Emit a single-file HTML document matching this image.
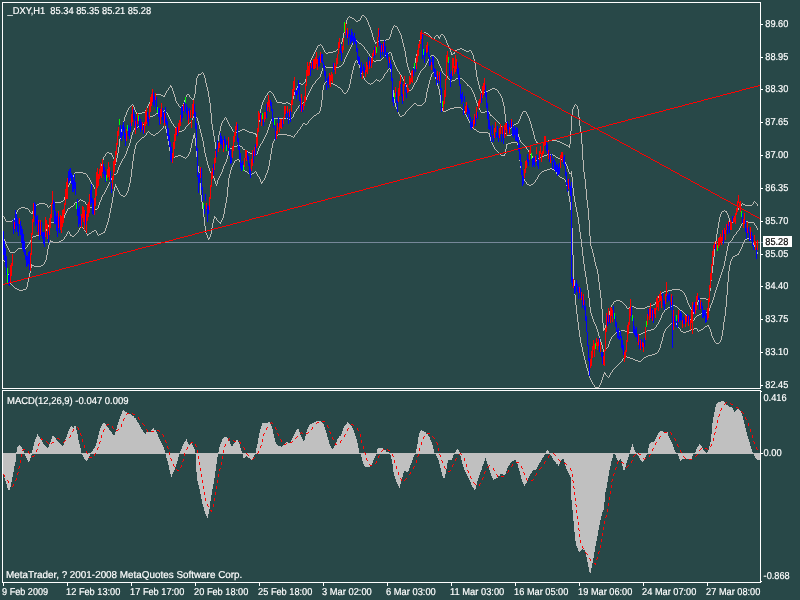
<!DOCTYPE html>
<html><head><meta charset="utf-8"><title>_DXY,H1</title>
<style>html,body{margin:0;padding:0;background:#284848;overflow:hidden}svg{display:block}text{font-family:"Liberation Sans", Arial, sans-serif;font-size:10px;fill:#fff;stroke:#fff;stroke-width:0.2px;white-space:pre;text-rendering:geometricPrecision}</style>
</head><body>
<svg width="800" height="600" viewBox="0 0 800 600">
<rect x="0" y="0" width="800" height="600" fill="#284848"/>
<g shape-rendering="crispEdges">
<path d="M3 453v22M4 453v25M5 453v28M6 453v31M7 453v35M8 453v37M9 453v37M10 453v34M11 453v29M12 453v24M13 453v19M14 453v13M15 453v9M16 452v2M17 447v7M18 446v8M19 445v9M20 446v8M21 447v7M22 449v5M23 451v3M24 453v1M25 453v3M26 453v5M27 453v7M28 453v9M29 453v8M30 453v5M31 453v2M32 450v4M33 446v8M34 442v12M35 439v15M36 437v17M37 434v20M38 436v18M39 437v17M40 439v15M41 440v14M42 442v12M43 444v10M44 445v9M45 446v8M46 447v7M47 448v6M48 447v7M49 444v10M50 442v12M51 439v15M52 436v18M53 436v18M54 437v17M55 438v16M56 440v14M57 441v13M58 442v12M59 443v11M60 444v10M61 445v9M62 446v8M63 445v9M64 442v12M65 439v15M66 437v17M67 434v20M68 431v23M69 429v25M70 427v27M71 426v28M72 427v27M73 428v26M74 426v28M75 426v28M76 430v24M77 434v20M78 440v14M79 444v10M80 448v6M81 453v1M82 453v2M83 453v4M84 453v6M85 453v7M86 453v8M87 453v7M88 453v5M89 453v3M90 453v1M91 452v2M92 451v3M93 449v5M94 448v6M95 446v8M96 443v11M97 439v15M98 435v19M99 431v23M100 428v26M101 426v28M102 424v30M103 423v31M104 423v31M105 424v30M106 426v28M107 427v27M108 428v26M109 430v24M110 431v23M111 432v22M112 434v20M113 435v19M114 435v19M115 432v22M116 429v25M117 425v29M118 422v32M119 419v35M120 416v38M121 414v40M122 411v43M123 410v44M124 411v43M125 412v42M126 412v42M127 413v41M128 413v41M129 414v40M130 414v40M131 415v39M132 416v38M133 416v38M134 418v36M135 418v36M136 420v34M137 422v32M138 423v31M139 425v29M140 427v27M141 429v25M142 430v24M143 432v22M144 433v21M145 434v20M146 432v22M147 432v22M148 432v22M149 432v22M150 432v22M151 430v24M152 429v25M153 428v26M154 430v24M155 430v24M156 432v22M157 434v20M158 437v17M159 439v15M160 441v13M161 443v11M162 445v9M163 447v7M164 450v4M165 453v1M166 453v5M167 453v8M168 453v12M169 453v17M170 453v21M171 453v24M172 453v21M173 453v19M174 453v17M175 453v14M176 453v11M177 453v8M178 453v4M179 453v1M180 451v3M181 449v5M182 446v8M183 444v10M184 442v12M185 441v13M186 439v15M187 442v12M188 444v10M189 445v9M190 444v10M191 443v11M192 445v9M193 447v7M194 449v5M195 453v1M196 453v19M197 453v28M198 453v32M199 453v36M200 453v41M201 453v46M202 453v51M203 453v54M204 453v58M205 453v61M206 453v63M207 453v65M208 453v61M209 453v56M210 453v48M211 453v42M212 453v36M213 453v31M214 453v25M215 453v18M216 453v11M217 453v4M218 452v2M219 447v7M220 444v10M221 442v12M222 439v15M223 438v16M224 437v17M225 437v17M226 437v17M227 438v16M228 439v15M229 441v13M230 444v10M231 446v8M232 446v8M233 444v10M234 443v11M235 441v13M236 440v14M237 440v14M238 442v12M239 444v10M240 448v6M241 451v3M242 453v1M243 453v5M244 453v5M245 453v4M246 453v3M247 453v4M248 453v5M249 453v5M250 453v6M251 453v7M252 453v6M253 453v4M254 453v2M255 453v1M256 448v6M257 444v10M258 438v16M259 433v21M260 429v25M261 426v28M262 423v31M263 423v31M264 423v31M265 423v31M266 423v31M267 423v31M268 422v32M269 422v32M270 423v31M271 426v28M272 429v25M273 434v20M274 438v16M275 442v12M276 444v10M277 445v9M278 446v8M279 446v8M280 446v8M281 447v7M282 446v8M283 445v9M284 444v10M285 443v11M286 442v12M287 442v12M288 443v11M289 443v11M290 442v12M291 440v14M292 438v16M293 436v18M294 434v20M295 432v22M296 430v24M297 429v25M298 429v25M299 432v22M300 435v19M301 437v17M302 439v15M303 441v13M304 440v14M305 436v18M306 432v22M307 429v25M308 427v27M309 425v29M310 424v30M311 424v30M312 423v31M313 423v31M314 422v32M315 422v32M316 421v33M317 421v33M318 421v33M319 421v33M320 421v33M321 422v32M322 423v31M323 424v30M324 427v27M325 430v24M326 433v21M327 437v17M328 440v14M329 444v10M330 446v8M331 448v6M332 449v5M333 448v6M334 446v8M335 444v10M336 442v12M337 439v15M338 438v16M339 436v18M340 436v18M341 434v20M342 431v23M343 428v26M344 426v28M345 425v29M346 424v30M347 422v32M348 423v31M349 424v30M350 425v29M351 426v28M352 428v26M353 430v24M354 433v21M355 436v18M356 439v15M357 443v11M358 448v6M359 453v1M360 453v1M361 453v4M362 453v8M363 453v11M364 453v13M365 453v14M366 453v14M367 453v14M368 453v14M369 453v14M370 453v13M371 453v12M372 453v10M373 453v7M374 453v5M375 453v3M376 453v1M377 449v5M378 448v6M379 448v6M380 448v6M381 448v6M382 448v6M383 449v5M384 450v4M385 450v4M386 452v2M387 452v2M388 452v2M389 453v1M390 453v2M391 453v6M392 453v11M393 453v19M394 453v23M395 453v26M396 453v29M397 453v31M398 453v33M399 453v35M400 453v31M401 453v28M402 453v24M403 453v20M404 453v18M405 453v18M406 453v19M407 453v19M408 453v18M409 453v15M410 453v12M411 453v10M412 453v7M413 453v4M414 453v2M415 453v1M416 449v5M417 444v10M418 437v17M419 433v21M420 431v23M421 430v24M422 431v23M423 431v23M424 432v22M425 432v22M426 434v20M427 434v20M428 436v18M429 437v17M430 440v14M431 442v12M432 445v9M433 449v5M434 453v1M435 453v1M436 453v3M437 453v5M438 453v7M439 453v11M440 453v15M441 453v19M442 453v23M443 453v25M444 453v25M445 453v21M446 453v16M447 453v10M448 453v7M449 453v7M450 453v7M451 453v7M452 453v5M453 453v2M454 453v1M455 452v2M456 450v4M457 449v5M458 450v4M459 452v2M460 453v3M461 453v7M462 453v11M463 453v14M464 453v17M465 453v19M466 453v21M467 453v23M468 453v25M469 453v27M470 453v29M471 453v32M472 453v34M473 453v35M474 453v37M475 453v36M476 453v32M477 453v28M478 453v25M479 453v22M480 453v19M481 453v17M482 453v13M483 453v11M484 453v8M485 453v5M486 453v8M487 453v11M488 453v14M489 453v17M490 453v20M491 453v23M492 453v25M493 453v27M494 453v26M495 453v26M496 453v25M497 453v25M498 453v23M499 453v23M500 453v21M501 453v21M502 453v21M503 453v22M504 453v22M505 453v21M506 453v18M507 453v15M508 453v13M509 453v12M510 453v10M511 453v9M512 453v8M513 453v8M514 453v7M515 453v7M516 453v9M517 453v11M518 453v15M519 453v18M520 453v22M521 453v26M522 453v29M523 453v31M524 453v33M525 453v31M526 453v30M527 453v28M528 453v25M529 453v23M530 453v21M531 453v20M532 453v18M533 453v17M534 453v17M535 453v17M536 453v16M537 453v14M538 453v12M539 453v10M540 453v9M541 453v7M542 453v5M543 453v4M544 453v2M545 453v1M546 451v3M547 450v4M548 451v3M549 453v1M550 453v2M551 453v3M552 453v5M553 453v7M554 453v8M555 453v9M556 453v11M557 453v11M558 453v13M559 453v11M560 453v9M561 453v7M562 453v6M563 453v6M564 453v9M565 453v13M566 453v16M567 453v18M568 453v20M569 453v22M570 453v24M571 453v47M572 453v57M573 453v68M574 453v79M575 453v88M576 453v93M577 453v95M578 453v98M579 453v99M580 453v98M581 453v97M582 453v96M583 453v97M584 453v97M585 453v100M586 453v104M587 453v109M588 453v114M589 453v119M590 453v120M591 453v115M592 453v110M593 453v105M594 453v99M595 453v93M596 453v88M597 453v83M598 453v77M599 453v72M600 453v67M601 453v63M602 453v59M603 453v57M604 453v49M605 453v39M606 453v35M607 453v29M608 453v23M609 453v17M610 453v13M611 453v8M612 453v5M613 453v1M614 453v1M615 453v2M616 453v5M617 453v7M618 453v8M619 453v7M620 453v6M621 453v8M622 453v13M623 453v17M624 453v17M625 453v14M626 453v10M627 453v7M628 453v4M629 453v1M630 450v4M631 447v7M632 444v10M633 447v7M634 450v4M635 452v2M636 453v1M637 453v2M638 453v3M639 453v5M640 453v7M641 453v8M642 453v9M643 453v8M644 453v6M645 453v4M646 453v2M647 453v1M648 448v6M649 444v10M650 443v11M651 442v12M652 442v12M653 442v12M654 441v13M655 439v15M656 437v17M657 435v19M658 433v21M659 432v22M660 431v23M661 431v23M662 431v23M663 432v22M664 433v21M665 432v22M666 432v22M667 432v22M668 436v18M669 438v16M670 440v14M671 442v12M672 444v10M673 447v7M674 450v4M675 452v2M676 453v1M677 453v1M678 453v3M679 453v6M680 453v8M681 453v7M682 453v6M683 453v6M684 453v6M685 453v6M686 453v6M687 453v6M688 453v6M689 453v6M690 453v6M691 453v6M692 453v3M693 453v1M694 453v1M695 452v2M696 449v5M697 447v7M698 446v8M699 444v10M700 445v9M701 446v8M702 448v6M703 450v4M704 451v3M705 452v2M706 453v1M707 452v2M708 450v4M709 446v8M710 442v12M711 434v20M712 423v31M713 417v37M714 412v42M715 407v47M716 404v50M717 403v51M718 402v52M719 402v52M720 402v52M721 401v53M722 401v53M723 401v53M724 402v52M725 404v50M726 405v49M727 405v49M728 406v48M729 407v47M730 407v47M731 407v47M732 408v46M733 410v44M734 412v42M735 411v43M736 410v44M737 409v45M738 409v45M739 410v44M740 411v43M741 413v41M742 416v38M743 420v34M744 424v30M745 428v26M746 432v22M747 436v18M748 439v15M749 442v12M750 446v8M751 449v5M752 452v2M753 453v1M754 453v3M755 453v5M756 453v6M757 453v7M758 453v7M759 453v7" stroke="#c0c0c0" stroke-width="1" fill="none" transform="translate(0.5,0)"/>
</g>
<path d="M3 474v1M4 475v2M7 480v1M8 481v2M12 486v1M13 484v2M15 480v1M16 478v2M17 473v2M18 468v1M18 472v1M19 466v2M20 460v3M21 454v3M22 450v1M23 449v1M24 449v1M28 451v2M29 453v1M32 456v1M33 456v1M34 455v1M36 450v2M37 449v1M38 444v2M39 443v1M41 438v2M42 439v1M46 441v1M47 442v1M48 443v1M51 443v1M52 442v1M53 442v1M57 438v1M58 438v1M59 439v1M63 442v1M64 441v1M65 440v1M69 437v1M70 435v2M72 431v1M73 429v2M77 427v1M78 428v2M80 433v2M81 435v1M82 439v3M84 445v3M86 451v2M87 453v1M89 457v1M90 457v1M91 457v1M94 454v2M95 453v1M97 448v2M98 447v1M99 442v2M100 441v1M101 435v3M103 430v2M104 429v1M106 425v1M107 424v1M108 424v1M112 426v2M113 428v1M116 430v1M117 430v1M118 429v1M121 424v3M123 419v2M124 418v1M126 414v1M127 413v1M128 413v1M132 413v1M133 414v1M134 414v1M138 417v2M139 419v1M142 423v1M143 424v1M144 425v1M146 429v1M147 430v2M151 431v1M152 431v1M153 431v1M157 430v1M158 430v1M159 431v1M162 434v1M163 435v2M165 440v2M166 442v1M167 446v2M168 448v1M169 452v3M170 458v1M171 459v2M173 464v2M174 466v1M176 469v1M177 470v1M178 470v1M180 467v1M181 465v2M182 461v1M183 459v2M184 453v3M186 449v1M187 447v2M190 443v1M191 442v1M192 442v1M195 444v2M196 446v1M197 450v3M198 456v3M199 462v3M200 468v3M201 474v3M202 480v3M203 486v3M204 492v3M205 498v3M207 504v2M208 506v1M210 510v1M211 510v2M213 504v3M214 498v3M215 492v3M216 486v3M217 480v3M218 474v3M219 469v2M220 468v1M221 462v3M222 456v3M223 450v3M224 446v1M225 444v2M228 439v2M229 438v1M233 440v1M234 441v1M235 441v1M239 441v1M240 442v2M243 447v1M244 448v2M246 453v1M247 454v1M248 455v1M252 459v1M253 458v1M254 457v1M257 453v1M258 451v2M260 446v2M261 445v1M262 439v3M263 434v2M264 433v1M266 428v2M267 427v1M270 423v1M271 422v1M272 423v1M275 427v2M276 429v1M277 433v1M278 434v2M280 439v1M281 440v2M284 444v1M285 444v1M286 443v1M290 442v1M291 442v1M292 441v1M295 438v1M296 437v1M297 436v1M300 433v1M301 432v1M302 433v1M306 433v1M307 433v1M308 432v1M311 429v1M312 427v2M316 423v1M317 422v1M318 422v1M322 421v1M323 421v1M324 421v1M327 425v2M328 427v1M329 431v1M330 432v2M332 437v2M333 439v1M335 443v2M336 444v1M340 441v2M341 440v1M344 435v2M345 434v1M347 429v2M348 428v1M351 424v1M352 424v1M353 425v1M357 428v2M358 430v1M360 434v3M361 440v3M363 446v3M364 452v1M365 453v2M366 458v2M367 460v1M369 464v1M370 465v1M371 465v1M375 463v1M376 461v2M378 456v2M379 455v1M381 451v1M382 450v1M383 449v1M387 449v1M388 450v1M389 450v1M392 454v2M393 456v1M394 460v3M396 466v3M398 472v3M400 478v1M401 479v2M404 480v1M405 479v1M406 478v1M409 474v1M410 472v2M413 467v2M414 466v1M416 460v3M417 456v1M418 454v2M419 448v3M421 442v3M423 437v2M424 436v1M427 433v1M428 433v1M429 433v1M432 436v1M433 437v1M434 438v1M436 442v1M437 443v2M438 448v3M439 454v1M440 455v2M441 460v1M442 461v2M444 466v2M445 468v1M448 471v1M449 471v1M450 470v1M452 465v2M453 464v1M455 459v2M456 458v1M459 454v1M460 453v1M461 454v1M464 458v3M466 464v3M467 470v1M468 471v2M470 476v2M471 478v1M473 482v1M474 483v1M475 484v1M479 484v2M480 483v1M482 478v2M483 477v1M484 472v2M485 471v1M487 467v1M488 466v1M489 465v1M493 468v2M494 470v1M496 474v1M497 475v2M501 476v1M502 476v1M503 476v1M507 472v1M508 470v2M511 466v1M512 464v2M516 462v1M517 462v1M518 462v1M521 466v2M522 468v1M523 472v1M524 473v2M526 478v2M527 480v1M531 480v1M532 480v1M533 479v1M535 475v1M536 473v2M539 469v1M540 468v1M541 467v1M544 462v2M545 461v1M548 456v2M549 455v1M553 453v1M554 454v1M555 455v1M558 459v1M559 460v1M560 461v1M564 463v1M565 463v1M566 464v1M570 468v2M571 470v1M572 474v3M572 480v1M573 481v2M573 486v2M574 488v1M574 492v3M575 498v3M575 504v1M576 505v2M576 510v3M577 516v3M578 522v3M578 528v2M579 530v1M579 534v3M580 540v3M582 546v2M583 548v1M585 552v1M586 553v1M587 554v1M589 558v1M590 559v2M594 563v1M595 563v2M596 559v1M597 557v2M598 552v2M599 551v1M600 545v3M601 539v3M602 533v3M603 527v3M604 521v3M605 517v1M606 515v2M607 509v3M608 503v3M609 497v3M610 491v3M611 481v1M611 485v3M612 479v2M613 474v2M614 473v1M615 468v2M616 467v1M617 462v2M618 461v1M621 462v1M622 462v1M623 463v1M626 467v1M627 466v1M628 465v1M631 461v2M632 460v1M633 456v1M634 455v1M635 454v1M638 453v1M639 454v1M640 454v1M643 458v1M644 459v1M645 458v1M649 455v2M650 454v1M652 449v2M653 448v1M655 443v2M656 442v1M659 437v2M660 436v1M664 432v1M665 432v1M666 432v1M670 432v1M671 433v2M674 438v1M675 439v2M677 444v2M678 446v1M680 450v2M681 452v1M683 456v1M684 457v1M685 458v1M689 459v1M690 459v1M691 459v1M695 456v1M696 455v1M697 454v1M699 450v1M700 449v1M701 448v1M705 448v1M706 448v1M707 449v1M710 446v1M711 444v2M713 438v3M714 433v2M715 428v1M715 432v1M716 426v2M717 420v3M718 416v1M719 414v2M720 410v1M721 408v2M724 404v1M725 403v1M726 402v1M730 403v1M731 404v1M732 404v1M736 407v1M737 407v1M738 408v1M741 411v1M742 412v1M743 413v1M745 417v2M746 419v1M748 423v3M750 429v3M752 435v3M753 441v1M754 442v2M756 447v2M757 449v1" stroke="#ff0000" stroke-width="1" fill="none" transform="translate(0.5,0)" shape-rendering="crispEdges"/>
<defs><clipPath id="cm"><rect x="3" y="3" width="757" height="385"/></clipPath></defs>
<g clip-path="url(#cm)">
<rect x="3" y="242" width="757" height="1" fill="#778899" shape-rendering="crispEdges"/>
<path d="M3 216v1M3 238v1M3 260v1M4 217v2M4 239v2M4 261v1M5 219v2M5 241v3M5 262v3M6 221v1M6 244v2M6 265v5M7 221v1M7 246v2M7 270v4M8 221v1M8 248v2M8 274v4M9 221v1M9 250v2M9 278v4M10 221v1M10 252v1M10 282v2M11 221v1M11 252v1M11 284v1M12 220v1M12 252v1M12 285v1M13 220v1M13 252v1M13 286v1M14 218v2M14 252v1M14 287v1M15 215v3M15 251v1M15 288v1M16 212v3M16 250v1M16 288v1M17 210v2M17 249v1M17 289v1M18 209v1M18 248v1M18 289v1M19 208v1M19 248v1M19 290v1M20 208v1M20 248v1M20 290v1M21 207v1M21 248v1M21 290v1M22 207v1M22 248v1M22 290v1M23 207v1M23 248v1M23 289v1M24 207v1M24 248v1M24 289v1M25 208v1M25 248v1M25 289v1M26 208v1M26 247v1M26 287v2M27 208v1M27 245v2M27 282v5M28 209v1M28 244v1M28 277v5M29 210v2M29 242v2M29 273v4M30 212v1M30 240v2M30 268v5M31 213v1M31 238v2M31 264v4M32 211v3M32 237v1M32 265v1M33 208v3M33 236v1M33 265v1M34 207v1M34 236v1M34 266v1M35 206v1M35 236v1M35 266v1M36 205v1M36 235v1M36 266v1M37 204v1M37 235v1M37 266v1M38 204v1M38 235v1M38 266v1M39 203v1M39 235v1M39 266v1M40 203v1M40 234v1M40 266v1M41 203v1M41 234v1M41 265v1M42 203v1M42 233v1M42 265v1M43 203v1M43 233v1M43 264v1M44 203v1M44 232v1M44 262v2M45 204v1M45 231v1M45 260v2M46 204v1M46 229v2M46 255v5M47 205v2M47 227v2M47 249v6M48 207v1M48 225v2M48 245v4M49 206v1M49 223v2M49 242v3M50 205v1M50 222v1M50 240v2M51 204v1M51 222v1M51 241v1M52 203v1M52 222v1M52 241v1M53 203v1M53 222v1M53 242v1M54 202v1M54 222v1M54 242v1M55 202v1M55 222v1M55 242v1M56 202v1M56 222v1M56 242v1M57 202v1M57 222v1M57 242v1M58 202v1M58 222v1M58 242v1M59 202v1M59 221v1M59 241v1M60 202v1M60 221v1M60 241v1M61 201v1M61 220v1M61 240v1M62 201v1M62 219v1M62 240v1M63 200v1M63 218v1M63 239v1M64 197v3M64 215v3M64 237v2M65 193v4M65 213v2M65 236v1M66 189v4M66 211v2M66 234v2M67 187v2M67 209v2M67 232v2M68 185v2M68 208v1M68 231v1M69 183v2M69 208v1M69 232v2M70 181v2M70 207v1M70 234v2M71 179v2M71 206v1M71 235v1M72 177v2M72 206v1M72 236v1M73 175v2M73 205v1M73 236v1M74 173v2M74 203v2M74 235v1M75 172v1M75 202v1M75 234v1M76 172v1M76 202v1M76 233v1M77 172v1M77 201v1M77 232v1M78 172v1M78 201v1M78 230v2M79 172v1M79 200v1M79 228v2M80 172v1M80 199v1M80 227v1M81 172v1M81 200v1M81 227v1M82 172v1M82 200v1M82 227v1M83 173v1M83 201v1M83 228v1M84 173v1M84 201v1M84 229v2M85 173v1M85 202v2M85 231v1M86 174v1M86 204v1M86 232v2M87 175v2M87 205v1M87 234v2M88 177v1M88 206v1M88 234v1M89 178v2M89 206v1M89 233v1M90 180v2M90 207v1M90 233v1M91 182v2M91 207v1M91 232v1M92 184v1M92 208v1M92 231v1M93 185v2M93 208v1M93 231v1M94 187v2M94 209v1M94 230v1M95 189v2M95 209v1M95 230v1M96 188v2M96 209v1M96 231v2M97 184v4M97 208v1M97 233v2M98 179v5M98 205v3M98 235v1M99 173v6M99 202v3M99 234v1M100 168v5M100 200v2M100 234v1M101 164v4M101 197v3M101 233v1M102 160v4M102 195v2M102 233v1M103 157v3M103 194v1M103 232v1M104 156v1M104 192v2M104 231v2M105 154v2M105 190v2M105 228v3M106 153v1M106 188v2M106 225v3M107 152v1M107 186v2M107 222v3M108 152v1M108 184v2M108 218v4M109 153v1M109 182v2M109 213v5M110 153v1M110 180v2M110 208v5M111 153v2M111 178v2M111 203v5M112 155v2M112 177v1M112 197v6M113 157v2M113 175v2M113 191v6M114 159v3M114 174v1M114 187v4M115 162v3M115 174v1M115 184v3M116 158v4M116 173v1M116 186v2M117 153v5M117 170v3M117 188v2M118 147v6M118 167v3M118 190v2M119 139v8M119 165v2M119 192v2M120 133v6M120 163v2M120 194v1M121 129v4M121 161v2M121 195v1M122 125v4M122 159v2M122 195v1M123 121v4M123 158v1M123 196v1M124 117v4M124 156v2M124 196v1M125 115v2M125 154v2M125 195v1M126 112v3M126 151v3M126 193v2M127 110v2M127 148v3M127 191v2M128 108v2M128 146v2M128 187v4M129 107v1M129 143v3M129 183v4M130 106v1M130 139v4M130 177v6M131 105v1M131 135v4M131 169v8M132 104v1M132 132v3M132 161v8M133 105v2M133 130v2M133 154v7M134 107v3M134 128v2M134 149v5M135 110v2M135 128v1M135 145v4M136 112v2M136 127v1M136 143v2M137 113v1M137 127v1M137 142v1M138 113v1M138 126v1M138 141v1M139 113v1M139 126v1M139 140v1M140 113v1M140 126v1M140 139v1M141 113v1M141 125v1M141 138v1M142 112v1M142 124v1M142 137v1M143 112v1M143 124v1M143 137v1M144 112v1M144 123v1M144 136v1M145 110v2M145 121v2M145 135v1M146 108v2M146 119v2M146 133v2M147 106v2M147 118v1M147 132v1M148 104v2M148 117v1M148 131v1M149 102v2M149 116v1M149 132v1M150 100v2M150 116v1M150 133v1M151 99v1M151 116v1M151 134v1M152 98v1M152 116v1M152 134v1M153 97v1M153 115v1M153 135v1M154 96v1M154 115v1M154 135v1M155 95v1M155 114v1M155 134v1M156 94v1M156 113v1M156 133v1M157 94v1M157 113v1M157 133v1M158 94v1M158 112v1M158 132v1M159 94v1M159 112v1M159 131v1M160 94v1M160 111v1M160 130v1M161 95v1M161 111v1M161 129v1M162 95v1M162 111v1M162 128v1M163 96v1M163 111v1M163 126v2M164 95v2M164 110v1M164 125v1M165 93v2M165 111v1M165 126v3M166 91v2M166 112v1M166 129v4M167 90v1M167 113v2M167 133v6M168 88v2M168 115v2M168 139v6M169 87v1M169 117v2M169 145v6M170 85v2M170 119v2M170 151v4M171 86v2M171 121v2M171 155v3M172 88v3M172 123v1M172 158v1M173 91v3M173 124v2M173 157v1M174 94v3M174 126v1M174 157v1M175 97v4M175 127v1M175 156v1M176 101v2M176 128v2M176 156v1M177 103v1M177 129v1M177 156v1M178 104v2M178 130v1M178 155v1M179 106v1M179 131v1M179 155v1M180 107v1M180 131v1M180 155v1M181 107v1M181 131v1M181 156v1M182 105v2M182 130v1M182 156v1M183 103v2M183 130v1M183 157v1M184 100v3M184 129v1M184 157v1M185 97v3M185 127v2M185 158v1M186 95v2M186 126v1M186 157v1M187 94v1M187 125v1M187 156v1M188 94v1M188 123v2M188 154v2M189 95v2M189 123v1M189 152v2M190 97v1M190 122v1M190 148v4M191 98v1M191 120v2M191 143v5M192 99v1M192 118v2M192 139v4M193 98v3M193 116v2M193 135v4M194 94v4M194 115v1M194 133v5M195 85v9M195 116v1M195 138v8M196 78v7M196 117v1M196 146v11M197 76v2M197 118v3M197 157v9M198 74v2M198 121v4M198 166v6M199 74v1M199 125v4M199 172v11M200 74v1M200 129v4M200 183v12M201 73v1M201 133v4M201 195v7M202 72v1M202 137v4M202 202v7M203 73v2M203 141v6M203 209v8M204 75v3M204 147v6M204 217v9M205 78v5M205 153v4M205 226v7M206 83v4M206 157v4M206 233v2M207 87v4M207 161v4M207 235v3M208 91v6M208 165v3M208 238v2M209 97v6M209 168v3M209 237v2M210 103v10M210 171v2M210 234v3M211 113v11M211 173v2M211 228v6M212 124v6M212 175v1M212 223v5M213 130v6M213 176v2M213 219v4M214 136v6M214 178v3M214 216v3M215 142v7M215 181v3M215 217v1M216 149v4M216 184v2M216 218v2M217 141v8M217 180v4M217 220v1M218 135v6M218 178v2M218 221v1M219 131v4M219 176v2M219 222v1M220 126v5M220 174v2M220 222v2M221 123v3M221 172v2M221 220v2M222 121v2M222 169v3M222 218v2M223 120v1M223 166v3M223 214v4M224 118v2M224 164v2M224 208v6M225 117v1M225 162v2M225 203v5M226 118v2M226 159v3M226 197v6M227 120v2M227 155v4M227 187v10M228 122v2M228 151v4M228 178v9M229 124v2M229 149v2M229 174v4M230 126v1M230 148v1M230 170v4M231 127v2M231 148v1M231 167v3M232 129v2M232 147v1M232 165v2M233 131v1M233 147v1M233 163v2M234 132v1M234 146v1M234 161v2M235 133v1M235 146v1M235 160v1M236 132v1M236 146v1M236 160v1M237 132v1M237 145v1M237 159v1M238 131v1M238 145v1M238 159v1M239 131v1M239 145v1M239 160v2M240 130v1M240 146v1M240 162v2M241 130v1M241 146v1M241 164v2M242 129v1M242 147v2M242 166v3M243 129v1M243 149v1M243 169v2M244 129v1M244 149v1M244 170v1M245 130v1M245 150v1M245 171v1M246 130v1M246 150v1M246 171v1M247 131v1M247 151v1M247 172v1M248 131v1M248 152v1M248 173v1M249 132v1M249 152v1M249 173v1M250 132v1M250 153v1M250 174v1M251 132v1M251 153v1M251 174v1M252 132v1M252 153v1M252 173v1M253 133v1M253 152v1M253 173v1M254 133v1M254 152v1M254 172v1M255 133v2M255 153v1M255 171v1M256 134v3M256 154v1M256 172v2M257 128v6M257 151v3M257 174v2M258 122v6M258 148v3M258 176v1M259 114v8M259 146v2M259 177v2M260 109v5M260 144v2M260 179v3M261 105v4M261 143v1M261 182v2M262 102v3M262 141v2M262 181v2M263 100v2M263 139v2M263 180v1M264 98v2M264 137v2M264 178v2M265 96v2M265 135v2M265 175v3M266 95v1M266 133v2M266 173v2M267 93v2M267 130v3M267 170v3M268 92v1M268 127v3M268 166v4M269 91v1M269 124v3M269 160v6M270 91v1M270 121v3M270 154v6M271 92v1M271 119v2M271 148v6M272 93v1M272 118v1M272 143v5M273 94v2M273 118v1M273 141v2M274 96v2M274 118v1M274 139v2M275 98v2M275 118v1M275 137v2M276 100v2M276 118v1M276 136v1M277 102v1M277 118v1M277 135v1M278 102v1M278 118v1M278 134v1M279 102v1M279 118v1M279 134v1M280 102v1M280 118v1M280 134v1M281 102v1M281 118v1M281 134v1M282 103v1M282 118v1M282 134v1M283 103v1M283 118v1M283 134v1M284 103v1M284 118v1M284 134v1M285 103v1M285 118v1M285 134v1M286 102v1M286 118v1M286 134v1M287 102v1M287 118v1M287 135v1M288 103v1M288 118v1M288 135v1M289 103v1M289 119v1M289 135v1M290 104v1M290 119v1M290 135v1M291 102v2M291 118v1M291 136v1M292 99v3M292 117v1M292 136v1M293 95v4M293 114v3M293 137v1M294 92v3M294 112v2M294 135v2M295 90v2M295 111v1M295 134v1M296 88v2M296 109v2M296 133v1M297 86v2M297 108v1M297 131v2M298 84v2M298 106v2M298 130v1M299 83v1M299 105v1M299 129v1M300 83v1M300 105v1M300 127v2M301 84v1M301 104v1M301 126v1M302 84v1M302 103v1M302 124v2M303 83v1M303 102v1M303 123v1M304 82v1M304 102v1M304 123v1M305 79v3M305 100v2M305 124v1M306 75v4M306 97v3M306 124v1M307 70v5M307 95v2M307 123v1M308 66v4M308 93v2M308 121v2M309 63v3M309 91v2M309 120v1M310 60v3M310 89v2M310 119v1M311 58v2M311 87v2M311 118v1M312 56v2M312 85v2M312 117v1M313 54v2M313 84v1M313 116v1M314 52v2M314 83v1M314 115v1M315 50v2M315 81v2M315 115v1M316 48v2M316 80v1M316 114v1M317 46v2M317 79v1M317 113v1M318 45v1M318 78v1M318 113v1M319 45v1M319 77v1M319 111v2M320 44v1M320 74v3M320 107v4M321 45v1M321 71v3M321 100v7M322 46v2M322 68v3M322 90v10M323 48v2M323 66v2M323 85v5M324 50v2M324 66v1M324 83v2M325 52v1M325 66v1M325 81v2M326 53v1M326 67v1M326 81v1M327 53v1M327 67v1M327 82v1M328 52v1M328 67v1M328 82v1M329 52v1M329 67v1M329 82v1M330 52v1M330 67v1M330 83v1M331 52v1M331 67v1M331 83v1M332 52v1M332 67v1M332 83v1M333 51v1M333 67v1M333 84v1M334 51v1M334 67v1M334 84v1M335 51v1M335 67v1M335 85v1M336 50v1M336 67v1M336 85v1M337 49v1M337 67v1M337 86v1M338 48v1M338 67v1M338 87v1M339 46v2M339 66v1M339 87v1M340 44v2M340 66v1M340 88v1M341 42v2M341 65v1M341 89v1M342 38v4M342 64v1M342 90v2M343 33v5M343 62v2M343 92v1M344 28v5M344 59v3M344 93v1M345 24v4M345 57v2M345 93v1M346 20v4M346 55v2M346 92v1M347 18v2M347 53v2M347 90v2M348 17v1M348 51v2M348 88v2M349 16v1M349 49v2M349 84v4M350 17v1M350 47v2M350 79v5M351 17v1M351 45v2M351 74v5M352 18v1M352 43v2M352 70v4M353 18v1M353 41v2M353 66v4M354 19v1M354 40v1M354 63v3M355 20v1M355 40v1M355 61v2M356 21v1M356 40v1M356 60v1M357 21v1M357 41v1M357 61v2M358 20v1M358 42v1M358 63v2M359 20v1M359 43v1M359 65v3M360 18v2M360 43v1M360 68v3M361 16v2M361 44v1M361 71v3M362 15v1M362 45v1M362 74v2M363 15v1M363 46v1M363 76v2M364 16v1M364 47v2M364 78v2M365 17v1M365 49v1M365 80v1M366 18v2M366 50v1M366 81v1M367 20v2M367 51v2M367 82v1M368 22v3M368 53v1M368 83v1M369 25v2M369 54v2M369 83v1M370 27v3M370 56v1M370 84v1M371 30v3M371 57v1M371 83v1M372 33v4M372 58v2M372 83v1M373 37v3M373 60v1M373 82v1M374 40v2M374 61v1M374 81v1M375 42v2M375 61v1M375 80v1M376 42v1M376 60v1M376 79v1M377 42v1M377 60v1M377 80v1M378 41v1M378 60v1M378 80v1M379 41v1M379 60v1M379 81v1M380 40v1M380 60v1M380 80v1M381 40v1M381 59v1M381 79v1M382 40v1M382 58v1M382 78v1M383 40v1M383 57v1M383 76v2M384 40v1M384 56v1M384 74v2M385 40v1M385 55v1M385 73v1M386 39v1M386 55v1M386 72v1M387 39v1M387 54v1M387 70v2M388 39v1M388 53v1M388 69v1M389 37v2M389 52v1M389 68v1M390 34v3M390 52v1M390 68v4M391 30v4M391 53v3M391 72v8M392 28v2M392 56v4M392 80v10M393 26v2M393 60v2M393 90v8M394 25v1M394 62v3M394 98v5M395 26v1M395 65v2M395 103v4M396 26v1M396 67v2M396 107v2M397 27v2M397 69v2M397 109v3M398 29v2M398 71v1M398 112v2M399 31v2M399 72v2M399 114v2M400 33v2M400 74v2M400 116v1M401 35v4M401 75v2M401 116v1M402 39v4M402 77v2M402 115v1M403 43v4M403 79v2M403 115v1M404 47v4M404 81v2M404 114v1M405 51v6M405 83v2M405 112v2M406 57v6M406 85v2M406 111v1M407 63v4M407 87v1M407 110v1M408 67v3M408 88v2M408 109v1M409 70v3M409 90v1M409 108v1M410 73v2M410 90v1M410 107v1M411 72v2M411 89v1M411 106v1M412 70v2M412 87v2M412 105v1M413 67v3M413 85v2M413 104v1M414 63v4M414 83v2M414 103v1M415 58v5M415 82v1M415 103v1M416 54v4M416 80v2M416 104v1M417 50v4M417 77v3M417 105v1M418 46v4M418 75v2M418 105v1M419 40v6M419 73v2M419 105v1M420 36v4M420 71v2M420 105v1M421 35v1M421 70v1M421 105v1M422 34v1M422 69v1M422 104v1M423 33v1M423 68v1M423 103v1M424 32v1M424 67v1M424 102v1M425 32v1M425 65v2M425 98v4M426 33v1M426 63v2M426 92v6M427 33v1M427 61v2M427 88v4M428 34v1M428 59v2M428 84v4M429 35v1M429 57v2M429 80v4M430 36v1M430 56v1M430 77v3M431 37v1M431 55v1M431 74v3M432 38v1M432 55v1M432 73v1M433 39v1M433 55v1M433 72v1M434 37v2M434 56v1M434 73v2M435 36v1M435 57v1M435 75v4M436 35v1M436 58v1M436 79v4M437 35v1M437 59v2M437 83v3M438 36v2M438 61v3M438 86v3M439 37v2M439 64v2M439 89v6M440 35v2M440 66v2M440 95v8M441 34v1M441 68v3M441 103v5M442 34v1M442 71v2M442 108v3M443 35v1M443 73v1M443 111v1M444 36v2M444 74v1M444 111v1M445 38v2M445 75v1M445 111v1M446 40v3M446 75v1M446 110v1M447 43v2M447 76v2M447 110v1M448 45v2M448 78v1M448 109v1M449 47v2M449 79v1M449 109v1M450 49v3M450 80v1M450 108v1M451 52v3M451 81v1M451 108v1M452 54v1M452 80v1M452 108v1M453 53v1M453 80v1M453 108v1M454 52v2M454 80v1M454 107v1M455 50v2M455 79v1M455 107v1M456 50v1M456 78v1M456 107v1M457 49v1M457 78v1M457 107v1M458 49v1M458 78v1M458 107v1M459 49v1M459 78v1M459 107v1M460 48v1M460 78v1M460 107v1M461 48v1M461 78v1M461 108v1M462 49v1M462 79v1M462 109v1M463 49v1M463 80v1M463 110v1M464 50v1M464 81v1M464 111v2M465 50v1M465 82v1M465 113v2M466 51v1M466 83v1M466 115v2M467 51v1M467 84v2M467 117v2M468 51v1M468 85v1M468 119v2M469 50v1M469 86v1M469 121v2M470 50v1M470 87v1M470 123v2M471 51v2M471 88v2M471 125v1M472 53v2M472 90v2M472 126v2M473 55v4M473 92v2M473 128v1M474 59v4M474 94v3M474 129v1M475 63v7M475 97v3M475 129v1M476 70v7M476 100v3M476 130v1M477 77v4M477 103v3M477 131v1M478 81v4M478 106v2M478 131v1M479 85v4M479 108v2M479 132v1M480 89v2M480 110v2M480 132v1M481 91v2M481 112v1M481 132v1M482 93v1M482 112v1M482 132v1M483 92v1M483 112v1M483 132v1M484 92v1M484 112v1M484 132v1M485 92v1M485 111v1M485 132v1M486 91v1M486 111v1M486 132v1M487 91v1M487 111v1M487 132v1M488 90v1M488 111v1M488 133v1M489 90v1M489 112v2M489 133v4M490 89v1M490 114v2M490 137v4M491 89v1M491 115v1M491 141v2M492 88v1M492 116v1M492 143v2M493 88v1M493 117v1M493 145v2M494 88v1M494 118v1M494 147v2M495 89v1M495 119v1M495 149v1M496 89v1M496 120v1M496 150v1M497 90v1M497 121v1M497 151v1M498 91v2M498 122v1M498 152v1M499 93v1M499 123v1M499 153v1M500 94v2M500 124v2M500 154v1M501 96v2M501 126v1M501 155v1M502 98v4M502 127v2M502 155v1M503 102v4M503 129v2M503 155v1M504 106v8M504 131v2M504 154v2M505 114v8M505 133v1M505 149v5M506 122v4M506 134v1M506 144v5M507 126v3M507 135v1M507 144v1M508 128v1M508 135v1M508 143v1M509 128v1M509 135v1M509 143v1M510 128v1M510 135v1M510 143v1M511 127v1M511 134v1M511 142v1M512 126v1M512 133v1M512 142v1M513 125v1M513 133v1M513 142v1M514 124v1M514 133v1M514 142v1M515 124v1M515 133v1M515 142v1M516 123v1M516 133v1M516 142v1M517 123v1M517 133v1M517 143v2M518 121v2M518 134v3M518 145v6M519 119v2M519 137v3M519 151v10M520 116v3M520 140v2M520 161v7M521 114v2M521 142v1M521 168v4M522 112v2M522 143v1M522 172v4M523 111v1M523 144v1M523 176v3M524 111v1M524 145v1M524 179v2M525 111v1M525 146v1M525 181v1M526 112v2M526 147v2M526 182v2M527 114v2M527 149v1M527 184v1M528 116v2M528 150v2M528 184v1M529 118v3M529 152v1M529 185v1M530 121v3M530 153v2M530 185v1M531 124v4M531 155v1M531 184v1M532 128v3M532 156v2M532 184v1M533 131v4M533 158v1M533 183v1M534 135v4M534 159v1M534 182v1M535 139v2M535 160v1M535 180v2M536 141v2M536 160v1M536 179v1M537 142v1M537 159v1M537 177v2M538 143v1M538 158v1M538 175v2M539 143v1M539 158v1M539 174v1M540 143v1M540 157v1M540 173v1M541 142v1M541 156v1M541 172v1M542 142v1M542 156v1M542 171v1M543 142v1M543 156v1M543 171v1M544 141v1M544 155v1M544 170v1M545 141v1M545 155v1M545 170v1M546 141v1M546 155v1M546 170v1M547 141v1M547 154v1M547 169v1M548 140v1M548 154v1M548 169v1M549 140v1M549 154v1M549 169v1M550 140v1M550 154v1M550 168v1M551 140v1M551 154v1M551 168v1M552 140v1M552 154v1M552 169v1M553 140v1M553 155v1M553 169v1M554 140v1M554 155v1M554 170v1M555 140v1M555 156v1M555 171v1M556 140v1M556 157v1M556 172v2M557 141v1M557 157v1M557 174v1M558 141v1M558 158v1M558 175v1M559 141v1M559 158v1M559 176v1M560 142v1M560 159v1M560 177v1M561 142v1M561 159v1M561 177v1M562 143v1M562 160v1M562 178v1M563 143v1M563 160v1M563 178v1M564 144v1M564 161v1M564 179v1M565 144v1M565 162v2M565 180v2M566 145v1M566 164v2M566 182v4M567 145v1M567 166v3M567 186v5M568 146v1M568 169v3M568 191v5M569 144v4M569 172v2M569 196v6M570 131v13M570 173v1M570 202v8M571 116v15M571 171v6M571 210v18M572 109v7M572 177v11M572 228v27M573 107v2M573 188v8M573 255v25M574 105v2M574 196v6M574 280v15M575 104v1M575 202v5M575 295v10M576 105v1M576 207v5M576 305v9M577 106v3M577 212v5M577 314v8M578 109v8M578 217v7M578 322v8M579 117v9M579 224v8M579 330v7M580 126v7M580 232v7M580 337v6M581 133v11M581 239v8M581 343v4M582 144v16M582 247v9M582 347v5M583 160v12M583 256v8M583 352v4M584 172v7M584 264v7M584 356v4M585 179v10M585 271v6M585 360v4M586 189v11M586 277v7M586 364v4M587 200v8M587 284v6M587 368v3M588 208v12M588 290v8M588 371v4M589 220v16M589 298v9M589 375v3M590 236v10M590 307v6M590 378v2M591 246v3M591 313v3M591 380v2M592 249v4M592 316v3M592 382v2M593 253v4M593 319v3M593 384v1M594 257v5M594 322v2M594 385v2M595 262v4M595 324v2M595 387v1M596 266v3M596 326v3M596 387v1M597 269v5M597 329v3M597 387v1M598 274v8M598 332v4M598 387v1M599 282v8M599 336v3M599 385v2M600 290v8M600 339v3M600 383v2M601 298v11M601 342v3M601 380v3M602 309v14M602 345v4M602 377v3M603 323v8M603 349v3M603 374v3M604 328v2M604 350v1M604 372v2M605 325v3M605 349v1M605 373v2M606 322v3M606 348v1M606 375v1M607 319v3M607 347v1M607 376v1M608 315v4M608 344v3M608 377v1M609 311v4M609 341v3M609 375v2M610 307v4M610 339v2M610 373v2M611 305v2M611 337v2M611 372v1M612 304v1M612 336v1M612 370v2M613 302v2M613 335v1M613 369v1M614 301v1M614 334v1M614 368v1M615 301v1M615 333v1M615 367v1M616 300v1M616 332v1M616 366v1M617 300v1M617 332v1M617 365v1M618 300v1M618 331v1M618 364v1M619 300v1M619 331v1M619 363v1M620 301v1M620 331v1M620 362v1M621 301v1M621 330v1M621 361v1M622 302v1M622 330v1M622 359v2M623 303v1M623 330v1M623 358v1M624 304v1M624 330v1M624 357v1M625 305v1M625 331v1M625 356v1M626 306v2M626 331v1M626 356v1M627 308v1M627 332v1M627 357v1M628 308v1M628 332v1M628 357v1M629 307v1M629 332v1M629 357v1M630 307v1M630 332v1M630 358v1M631 307v1M631 332v1M631 358v1M632 306v1M632 332v1M632 358v1M633 306v1M633 332v1M633 359v1M634 307v1M634 333v1M634 359v1M635 307v1M635 333v1M635 360v1M636 308v1M636 334v1M636 360v1M637 308v1M637 334v1M637 360v1M638 308v1M638 334v1M638 361v1M639 308v1M639 334v1M639 361v1M640 308v1M640 334v1M640 361v1M641 308v1M641 333v1M641 360v1M642 308v1M642 333v1M642 359v1M643 308v1M643 332v1M643 358v1M644 308v1M644 332v1M644 357v1M645 307v1M645 331v1M645 357v1M646 307v1M646 331v1M646 356v1M647 306v1M647 330v1M647 356v1M648 306v1M648 330v1M648 355v1M649 306v1M649 330v1M649 355v1M650 305v1M650 330v1M650 355v1M651 305v1M651 329v1M651 355v1M652 305v1M652 329v1M652 354v1M653 304v1M653 329v1M653 354v1M654 304v1M654 328v1M654 354v1M655 302v2M655 327v1M655 353v1M656 300v2M656 325v2M656 353v1M657 298v2M657 324v1M657 352v1M658 296v2M658 322v2M658 350v2M659 294v2M659 320v2M659 348v2M660 293v1M660 318v2M660 344v4M661 293v1M661 315v3M661 341v3M662 292v1M662 313v2M662 337v4M663 292v1M663 312v1M663 333v4M664 291v1M664 310v2M664 331v2M665 291v1M665 309v1M665 329v2M666 291v1M666 309v1M666 328v1M667 291v1M667 308v1M667 327v1M668 290v1M668 307v1M668 326v1M669 290v1M669 307v1M669 325v1M670 290v1M670 306v1M670 324v1M671 290v1M671 306v1M671 323v1M672 289v1M672 305v1M672 321v2M673 289v1M673 305v1M673 320v1M674 289v1M674 305v1M674 321v1M675 289v1M675 306v1M675 322v1M676 289v1M676 306v1M676 323v2M677 289v1M677 307v1M677 325v2M678 289v1M678 308v1M678 327v1M679 289v1M679 309v1M679 328v1M680 290v1M680 310v1M680 329v2M681 290v1M681 310v1M681 331v1M682 291v1M682 311v1M682 331v1M683 292v1M683 312v1M683 332v1M684 293v2M684 313v1M684 332v1M685 295v2M685 314v1M685 332v1M686 297v3M686 315v1M686 331v1M687 300v3M687 316v1M687 331v1M688 303v2M688 317v1M688 331v1M689 305v2M689 318v1M689 330v1M690 307v2M690 319v1M690 330v1M691 309v2M691 320v1M691 329v1M692 311v2M692 320v1M692 329v1M693 312v2M693 320v1M693 329v1M694 310v2M694 318v2M694 328v1M695 307v3M695 317v1M695 328v1M696 305v2M696 316v1M696 328v1M697 302v3M697 315v1M697 329v2M698 300v2M698 315v1M698 331v1M699 299v1M699 314v1M699 330v1M700 298v1M700 314v1M700 330v1M701 298v1M701 313v1M701 329v1M702 298v1M702 313v1M702 329v1M703 298v1M703 312v1M703 328v1M704 298v1M704 312v1M704 327v1M705 298v1M705 312v1M705 326v1M706 299v1M706 312v1M706 326v1M707 299v1M707 312v1M707 325v1M708 298v2M708 311v1M708 325v2M709 291v7M709 308v3M709 327v2M710 281v10M710 305v3M710 329v3M711 273v8M711 303v2M711 332v4M712 265v8M712 300v3M712 336v2M713 257v8M713 297v3M713 338v2M714 249v8M714 293v4M714 340v2M715 241v8M715 290v3M715 342v1M716 234v7M716 287v3M716 343v1M717 228v6M717 284v3M717 343v1M718 222v6M718 281v3M718 343v1M719 217v5M719 278v3M719 342v1M720 214v3M720 275v3M720 340v2M721 212v2M721 272v3M721 336v4M722 211v1M722 269v3M722 330v6M723 211v1M723 266v3M723 322v8M724 210v1M724 261v5M724 316v6M725 211v1M725 256v5M725 307v9M726 211v2M726 251v5M726 295v12M727 213v2M727 246v5M727 282v13M728 215v3M728 243v3M728 271v11M729 218v4M729 242v1M729 265v6M730 222v2M730 241v1M730 261v4M731 222v1M731 240v1M731 259v2M732 221v2M732 238v2M732 257v2M733 219v2M733 236v2M733 256v1M734 216v3M734 235v1M734 256v1M735 214v2M735 234v1M735 255v1M736 212v2M736 232v2M736 255v1M737 210v2M737 231v1M737 254v1M738 208v2M738 230v1M738 253v2M739 207v1M739 228v2M739 251v2M740 206v1M740 226v2M740 249v2M741 204v2M741 224v2M741 247v2M742 203v1M742 223v1M742 244v3M743 204v1M743 222v1M743 242v2M744 204v1M744 222v1M744 240v2M745 205v1M745 222v1M745 239v1M746 205v1M746 221v1M746 239v1M747 205v1M747 221v1M747 238v1M748 205v1M748 222v1M748 238v1M749 205v1M749 222v1M749 239v1M750 205v1M750 222v1M750 239v1M751 205v1M751 222v1M751 240v1M752 204v1M752 222v1M752 241v2M753 202v2M753 222v1M753 243v2M754 201v1M754 223v2M754 245v2M755 202v1M755 225v1M755 247v3M756 203v1M756 226v2M756 250v2M757 204v2M757 228v2M757 252v2" stroke="#b9b9b3" stroke-width="1" fill="none" transform="translate(0.5,0)" shape-rendering="crispEdges"/>
<path d="M10 265v17M11 263v13M12 254v12M14 222v7M19 218v6M30 253v18M31 233v22M32 219v16M33 203v19M38 220v15M40 220v15M45 217v20M46 220v9M47 224v15M49 218v17M50 214v14M51 203v15M52 191v13M58 211v17M60 215v15M61 216v17M62 210v17M63 209v14M64 203v11M65 189v16M66 182v17M67 178v21M81 214v14M82 206v12M83 207v15M84 210v20M86 214v19M87 204v17M88 202v15M89 194v19M94 198v17M95 189v17M96 172v24M97 168v20M98 174v12M99 169v10M100 163v13M101 166v12M102 159v13M107 169v9M108 162v15M109 167v13M112 176v13M113 161v19M114 159v13M115 151v13M116 143v12M117 131v14M118 127v9M126 129v12M131 114v12M132 106v16M135 121v13M137 113v11M142 122v8M144 122v11M145 111v15M146 108v16M149 104v15M150 97v15M151 94v12M152 89v13M155 93v7M160 109v15M161 103v14M164 113v13M172 153v10M173 142v16M174 134v15M175 128v13M176 127v8M178 123v10M179 120v10M180 115v11M183 104v7M188 111v13M190 110v8M191 120v8M192 104v14M193 100v14M200 167v11M206 203v6M209 197v13M210 185v14M211 172v15M212 168v11M214 158v12M215 151v12M218 143v9M219 142v6M223 140v12M228 137v11M232 146v12M233 136v15M234 132v10M235 126v10M236 122v8M244 158v9M245 150v8M246 150v11M251 159v12M252 150v16M254 147v9M256 137v11M257 128v18M258 111v21M259 113v7M261 115v11M264 112v10M265 112v7M267 102v9M268 95v12M269 100v12M276 131v8M277 123v11M279 123v9M280 119v9M281 119v10M283 117v7M284 106v12M285 106v8M287 106v7M289 109v8M291 100v12M292 89v16M293 81v15M294 77v13M301 94v18M303 104v6M304 96v10M305 84v18M306 70v16M307 62v14M308 66v10M309 62v13M311 62v6M313 59v10M314 59v10M315 57v11M316 52v12M317 59v11M320 52v11M329 73v12M330 75v12M331 72v9M332 74v9M334 63v7M335 66v8M336 58v9M337 54v10M338 42v12M339 38v10M342 46v7M343 38v12M345 23v12M347 28v10M362 71v8M365 70v7M366 62v10M367 65v9M369 61v8M371 58v10M372 53v10M373 50v6M375 46v9M377 37v10M378 28v9M381 45v7M383 42v10M389 57v6M395 87v10M398 88v14M399 81v15M400 75v9M403 84v17M404 76v10M407 84v9M408 88v4M409 76v9M410 78v6M411 71v11M412 70v13M416 56v13M417 50v12M418 44v12M419 41v7M420 32v12M421 30v9M426 45v8M427 42v10M431 62v8M437 71v9M439 72v9M443 101v10M444 90v14M445 79v18M446 55v25M447 51v11M452 58v18M453 58v10M454 66v8M455 55v17M456 59v10M465 106v8M466 102v10M473 120v8M474 114v10M476 107v11M478 101v8M479 99v8M480 93v10M482 86v12M483 83v12M484 78v12M494 128v10M495 122v10M499 128v10M500 124v10M502 126v8M504 125v13M505 123v7M506 123v13M509 127v7M511 119v8M524 169v9M525 161v12M526 160v8M529 150v10M530 146v8M535 156v6M536 147v7M539 151v9M540 146v8M541 153v9M542 151v5M543 143v11M544 136v10M545 136v9M548 150v9M550 156v7M560 155v13M561 152v6M562 152v10M568 179v10M573 279v9M579 287v6M581 292v8M583 294v11M590 359v9M591 351v15M592 346v12M593 340v10M594 344v13M596 338v8M597 342v8M598 339v7M600 342v10M603 356v9M604 350v16M605 328v23M606 313v19M608 308v14M610 307v16M611 308v8M612 310v12M624 352v10M625 350v8M626 340v12M627 325v17M628 322v12M629 308v17M630 299v17M638 334v11M640 340v10M642 342v5M643 343v9M645 327v13M647 314v11M649 308v12M650 303v15M652 310v11M654 308v6M655 308v10M656 298v12M657 296v11M658 301v10M659 294v8M660 291v10M661 296v12M665 294v10M666 282v14M671 294v11M673 310v20M678 310v12M682 320v8M685 315v12M686 316v6M688 316v10M690 320v10M691 310v13M692 302v32M695 302v12M696 296v14M697 293v7M700 300v9M707 308v12M708 298v20M709 285v17M710 273v15M711 264v16M712 251v15M713 245v11M714 242v6M716 241v9M718 238v10M719 237v9M720 234v9M721 237v8M722 230v11M724 228v6M725 230v10M726 224v6M728 221v5M730 220v10M731 222v8M733 218v5M734 216v6M735 213v11M736 208v7M737 201v11M738 195v8M739 202v6M740 201v11M743 219v9M744 213v11M747 222v11M750 227v12M754 235v10M755 241v9M757 240v10" stroke="#ff0000" stroke-width="1" fill="none" transform="translate(0.5,0)" shape-rendering="crispEdges"/>
<path d="M3 231v24M4 241v19M5 248v19M6 256v19M8 275v10M9 273v13M13 219v15M15 210v22M16 214v12M17 218v14M18 224v12M20 221v14M21 226v17M22 229v20M23 234v18M24 241v14M25 250v10M26 255v12M27 256v10M28 252v12M29 251v19M34 202v14M35 204v22M36 216v8M37 215v17M39 222v18M41 222v14M42 232v7M43 232v12M44 232v15M48 231v12M53 200v10M54 202v22M55 211v13M56 216v15M57 213v24M59 217v16M68 171v12M69 169v12M70 168v10M71 173v11M72 175v17M73 180v12M74 174v15M75 182v13M77 199v17M78 208v19M79 206v18M80 216v10M85 211v14M90 190v15M91 184v19M92 198v16M93 200v15M103 164v10M104 167v10M105 171v11M110 171v11M111 183v10M120 125v13M121 132v9M122 125v11M123 122v9M124 127v12M125 133v13M128 125v11M129 128v11M130 123v9M133 109v10M134 114v12M136 117v13M139 116v12M140 119v13M141 122v7M143 126v8M147 112v10M148 117v9M153 92v13M154 96v11M156 97v13M158 108v9M159 108v17M162 108v12M163 112v11M165 107v16M166 118v7M167 121v15M168 128v13M169 135v12M170 142v18M171 147v15M177 127v9M181 107v15M182 106v12M184 102v10M186 104v10M187 107v13M189 108v10M194 104v13M195 112v17M196 123v28M197 148v29M198 175v18M199 173v10M201 168v22M202 187v14M204 205v9M205 194v7M207 205v17M208 206v8M213 164v11M216 148v9M217 140v9M220 133v11M221 136v9M222 139v10M224 136v7M225 139v8M227 141v9M229 145v11M230 150v14M231 157v6M237 124v18M238 138v12M239 146v13M240 153v15M241 163v8M242 161v9M247 152v8M248 156v10M249 163v11M250 169v9M253 151v12M255 144v12M260 113v9M263 120v6M266 104v14M270 100v6M271 102v9M272 109v13M273 118v10M275 126v14M278 117v10M282 120v7M286 111v8M288 112v12M290 111v11M295 90v5M296 91v8M297 88v7M298 80v10M299 84v17M300 98v13M302 105v7M310 66v10M312 61v9M318 58v9M319 56v10M321 54v8M322 54v9M323 62v6M324 65v11M325 71v11M326 84v6M327 78v6M328 76v12M333 63v9M340 44v9M341 51v10M346 30v8M348 34v11M349 30v7M350 35v9M351 29v13M352 32v9M353 36v9M354 33v9M355 38v6M356 41v11M357 48v12M358 56v8M359 57v8M360 67v10M361 62v11M363 64v8M364 67v6M368 57v10M370 58v8M374 47v11M379 30v16M380 43v15M382 44v11M384 40v17M385 46v7M386 53v5M387 52v8M388 60v8M390 60v9M391 64v17M392 78v24M393 97v9M396 92v11M397 101v11M401 82v14M402 94v10M405 84v8M406 90v8M413 68v8M415 66v6M422 33v26M424 52v11M425 49v7M428 46v11M429 55v11M430 59v6M432 56v9M433 57v15M434 68v9M435 69v8M436 75v10M438 76v8M440 72v18M441 88v24M449 60v16M450 74v13M451 71v8M457 62v12M458 68v12M459 75v11M460 84v15M461 94v10M462 92v10M463 103v12M464 96v6M467 105v12M468 108v6M469 110v10M470 117v11M471 122v8M472 119v8M475 116v10M477 112v7M481 94v9M485 85v12M486 92v16M487 103v16M488 112v17M489 120v10M490 126v10M491 135v7M492 125v9M493 135v7M496 133v5M497 126v11M498 136v6M501 134v8M503 128v16M507 121v8M508 124v9M510 120v8M512 122v14M513 128v10M514 126v9M515 130v11M516 127v14M517 128v14M518 137v14M519 144v16M520 154v12M521 162v13M522 170v16M523 176v8M527 154v8M528 159v7M532 158v9M533 158v7M534 157v10M537 155v11M538 160v9M546 141v10M547 144v10M549 152v10M551 154v6M552 161v8M553 158v4M554 160v10M555 162v10M556 165v7M557 164v12M558 167v8M559 163v11M563 157v7M564 155v11M565 164v12M566 172v13M567 183v9M569 179v9M570 186v10M571 182v101M572 277v9M574 286v8M575 283v10M576 280v6M577 284v8M578 287v12M580 288v10M582 296v12M584 300v10M585 306v15M586 316v16M587 332v14M588 345v16M589 358v18M599 338v14M601 352v5M602 352v12M607 315v11M609 315v9M613 306v12M615 316v11M616 322v10M617 330v8M618 328v11M619 336v4M620 331v7M621 336v12M622 340v10M623 345v10M631 307v10M633 318v15M634 326v9M635 329v8M636 327v10M637 334v8M639 342v7M641 339v10M644 338v9M648 309v7M651 308v11M653 309v14M662 293v6M663 299v7M664 301v9M667 294v8M668 295v5M669 292v9M670 302v8M672 296v52M674 316v6M675 321v6M677 319v9M679 314v8M680 311v9M681 313v8M683 317v7M684 320v4M687 314v8M689 315v9M693 305v7M694 302v12M698 296v4M699 298v12M701 302v7M702 306v12M703 310v8M704 310v6M705 310v13M706 315v7M715 244v6M723 230v14M727 224v10M729 222v11M732 216v6M742 213v10M745 220v12M746 228v11M748 227v6M749 232v9M751 232v9M752 236v10M753 245v5M756 248v11" stroke="#0000ff" stroke-width="1" fill="none" transform="translate(0.5,0)" shape-rendering="crispEdges"/>
<path d="M7 268v16M76 203v6M106 175v6M119 119v6M127 125v6M138 115v6M157 107v6M185 97v6M203 203v6M226 145v6M243 165v6M262 113v6M274 119v6M344 22v10M376 47v6M394 93v6M414 63v6M423 49v6M442 101v6M448 57v6M531 153v6M595 343v6M614 313v6M632 315v6M646 321v6M676 315v6M717 245v6M741 211v6" stroke="#00ff00" stroke-width="1" fill="none" transform="translate(0.5,0)" shape-rendering="crispEdges"/>
<path d="M3 284v1M4 284v1M5 283v1M6 283v1M7 283v1M8 283v1M9 282v1M10 282v1M11 282v1M12 282v1M13 281v1M14 281v1M15 281v1M16 281v1M17 280v1M18 280v1M19 280v1M20 280v1M21 279v1M22 279v1M23 279v1M24 278v1M25 278v1M26 278v1M27 278v1M28 277v1M29 277v1M30 277v1M31 277v1M32 276v1M33 276v1M34 276v1M35 276v1M36 275v1M37 275v1M38 275v1M39 275v1M40 274v1M41 274v1M42 274v1M43 273v1M44 273v1M45 273v1M46 273v1M47 272v1M48 272v1M49 272v1M50 272v1M51 271v1M52 271v1M53 271v1M54 271v1M55 270v1M56 270v1M57 270v1M58 270v1M59 269v1M60 269v1M61 269v1M62 268v1M63 268v1M64 268v1M65 268v1M66 267v1M67 267v1M68 267v1M69 267v1M70 266v1M71 266v1M72 266v1M73 266v1M74 265v1M75 265v1M76 265v1M77 265v1M78 264v1M79 264v1M80 264v1M81 263v1M82 263v1M83 263v1M84 263v1M85 262v1M86 262v1M87 262v1M88 262v1M89 261v1M90 261v1M91 261v1M92 261v1M93 260v1M94 260v1M95 260v1M96 260v1M97 259v1M98 259v1M99 259v1M100 258v1M101 258v1M102 258v1M103 258v1M104 257v1M105 257v1M106 257v1M107 257v1M108 256v1M109 256v1M110 256v1M111 256v1M112 255v1M113 255v1M114 255v1M115 255v1M116 254v1M117 254v1M118 254v1M119 253v1M120 253v1M121 253v1M122 253v1M123 252v1M124 252v1M125 252v1M126 252v1M127 251v1M128 251v1M129 251v1M130 251v1M131 250v1M132 250v1M133 250v1M134 250v1M135 249v1M136 249v1M137 249v1M138 248v1M139 248v1M140 248v1M141 248v1M142 247v1M143 247v1M144 247v1M145 247v1M146 246v1M147 246v1M148 246v1M149 246v1M150 245v1M151 245v1M152 245v1M153 245v1M154 244v1M155 244v1M156 244v1M157 243v1M158 243v1M159 243v1M160 243v1M161 242v1M162 242v1M163 242v1M164 242v1M165 241v1M166 241v1M167 241v1M168 241v1M169 240v1M170 240v1M171 240v1M172 240v1M173 239v1M174 239v1M175 239v1M176 238v1M177 238v1M178 238v1M179 238v1M180 237v1M181 237v1M182 237v1M183 237v1M184 236v1M185 236v1M186 236v1M187 236v1M188 235v1M189 235v1M190 235v1M191 235v1M192 234v1M193 234v1M194 234v1M195 233v1M196 233v1M197 233v1M198 233v1M199 232v1M200 232v1M201 232v1M202 232v1M203 231v1M204 231v1M205 231v1M206 231v1M207 230v1M208 230v1M209 230v1M210 230v1M211 229v1M212 229v1M213 229v1M214 228v1M215 228v1M216 228v1M217 228v1M218 227v1M219 227v1M220 227v1M221 227v1M222 226v1M223 226v1M224 226v1M225 226v1M226 225v1M227 225v1M228 225v1M229 225v1M230 224v1M231 224v1M232 224v1M233 223v1M234 223v1M235 223v1M236 223v1M237 222v1M238 222v1M239 222v1M240 222v1M241 221v1M242 221v1M243 221v1M244 221v1M245 220v1M246 220v1M247 220v1M248 220v1M249 219v1M250 219v1M251 219v1M252 218v1M253 218v1M254 218v1M255 218v1M256 217v1M257 217v1M258 217v1M259 217v1M260 216v1M261 216v1M262 216v1M263 216v1M264 215v1M265 215v1M266 215v1M267 215v1M268 214v1M269 214v1M270 214v1M271 213v1M272 213v1M273 213v1M274 213v1M275 212v1M276 212v1M277 212v1M278 212v1M279 211v1M280 211v1M281 211v1M282 211v1M283 210v1M284 210v1M285 210v1M286 210v1M287 209v1M288 209v1M289 209v1M290 208v1M291 208v1M292 208v1M293 208v1M294 207v1M295 207v1M296 207v1M297 207v1M298 206v1M299 206v1M300 206v1M301 206v1M302 205v1M303 205v1M304 205v1M305 205v1M306 204v1M307 204v1M308 204v1M309 203v1M310 203v1M311 203v1M312 203v1M313 202v1M314 202v1M315 202v1M316 202v1M317 201v1M318 201v1M319 201v1M320 201v1M321 200v1M322 200v1M323 200v1M324 200v1M325 199v1M326 199v1M327 199v1M328 198v1M329 198v1M330 198v1M331 198v1M332 197v1M333 197v1M334 197v1M335 197v1M336 196v1M337 196v1M338 196v1M339 196v1M340 195v1M341 195v1M342 195v1M343 195v1M344 194v1M345 194v1M346 194v1M347 193v1M348 193v1M349 193v1M350 193v1M351 192v1M352 192v1M353 192v1M354 192v1M355 191v1M356 191v1M357 191v1M358 191v1M359 190v1M360 190v1M361 190v1M362 190v1M363 189v1M364 189v1M365 189v1M366 188v1M367 188v1M368 188v1M369 188v1M370 187v1M371 187v1M372 187v1M373 187v1M374 186v1M375 186v1M376 186v1M377 186v1M378 185v1M379 185v1M380 185v1M381 184v1M382 184v1M383 184v1M384 184v1M385 183v1M386 183v1M387 183v1M388 183v1M389 182v1M390 182v1M391 182v1M392 182v1M393 181v1M394 181v1M395 181v1M396 181v1M397 180v1M398 180v1M399 180v1M400 179v1M401 179v1M402 179v1M403 179v1M404 178v1M405 178v1M406 178v1M407 178v1M408 177v1M409 177v1M410 177v1M411 177v1M412 176v1M413 176v1M414 176v1M415 176v1M416 175v1M417 175v1M418 175v1M419 174v1M420 174v1M421 32v1M421 174v1M422 33v1M422 174v1M423 33v1M423 173v1M424 34v1M424 173v1M425 34v1M425 173v1M426 35v1M426 173v1M427 35v1M427 172v1M428 36v1M428 172v1M429 36v1M429 172v1M430 37v1M430 172v1M431 38v1M431 171v1M432 38v1M432 171v1M433 39v1M433 171v1M434 39v1M434 171v1M435 40v1M435 170v1M436 40v1M436 170v1M437 41v1M437 170v1M438 41v1M438 169v1M439 42v1M439 169v1M440 42v1M440 169v1M441 43v1M441 169v1M442 44v1M442 168v1M443 44v1M443 168v1M444 45v1M444 168v1M445 45v1M445 168v1M446 46v1M446 167v1M447 46v1M447 167v1M448 47v1M448 167v1M449 47v1M449 167v1M450 48v1M450 166v1M451 49v1M451 166v1M452 49v1M452 166v1M453 50v1M453 166v1M454 50v1M454 165v1M455 51v1M455 165v1M456 51v1M456 165v1M457 52v1M457 164v1M458 52v1M458 164v1M459 53v1M459 164v1M460 53v1M460 164v1M461 54v1M461 163v1M462 55v1M462 163v1M463 55v1M463 163v1M464 56v1M464 163v1M465 56v1M465 162v1M466 57v1M466 162v1M467 57v1M467 162v1M468 58v1M468 162v1M469 58v1M469 161v1M470 59v1M470 161v1M471 60v1M471 161v1M472 60v1M472 161v1M473 61v1M473 160v1M474 61v1M474 160v1M475 62v1M475 160v1M476 62v1M476 159v1M477 63v1M477 159v1M478 63v1M478 159v1M479 64v1M479 159v1M480 64v1M480 158v1M481 65v1M481 158v1M482 66v1M482 158v1M483 66v1M483 158v1M484 67v1M484 157v1M485 67v1M485 157v1M486 68v1M486 157v1M487 68v1M487 157v1M488 69v1M488 156v1M489 69v1M489 156v1M490 70v1M490 156v1M491 71v1M491 156v1M492 71v1M492 155v1M493 72v1M493 155v1M494 72v1M494 155v1M495 73v1M495 154v1M496 73v1M496 154v1M497 74v1M497 154v1M498 74v1M498 154v1M499 75v1M499 153v1M500 75v1M500 153v1M501 76v1M501 153v1M502 77v1M502 153v1M503 77v1M503 152v1M504 78v1M504 152v1M505 78v1M505 152v1M506 79v1M506 152v1M507 79v1M507 151v1M508 80v1M508 151v1M509 80v1M509 151v1M510 81v1M510 151v1M511 82v1M511 150v1M512 82v1M512 150v1M513 83v1M513 150v1M514 83v1M514 149v1M515 84v1M515 149v1M516 84v1M516 149v1M517 85v1M517 149v1M518 85v1M518 148v1M519 86v1M519 148v1M520 86v1M520 148v1M521 87v1M521 148v1M522 88v1M522 147v1M523 88v1M523 147v1M524 89v1M524 147v1M525 89v1M525 147v1M526 90v1M526 146v1M527 90v1M527 146v1M528 91v1M528 146v1M529 91v1M529 146v1M530 92v1M530 145v1M531 93v1M531 145v1M532 93v1M532 145v1M533 94v1M533 144v1M534 94v1M534 144v1M535 95v1M535 144v1M536 95v1M536 144v1M537 96v1M537 143v1M538 96v1M538 143v1M539 97v1M539 143v1M540 97v1M540 143v1M541 98v1M541 142v1M542 99v1M542 142v1M543 99v1M543 142v1M544 100v1M544 142v1M545 100v1M545 141v1M546 101v1M546 141v1M547 101v1M547 141v1M548 102v1M548 141v1M549 102v1M549 140v1M550 103v1M550 140v1M551 104v1M551 140v1M552 104v1M552 139v1M553 105v1M553 139v1M554 105v1M554 139v1M555 106v1M555 139v1M556 106v1M556 138v1M557 107v1M557 138v1M558 107v1M558 138v1M559 108v1M559 138v1M560 108v1M560 137v1M561 109v1M561 137v1M562 110v1M562 137v1M563 110v1M563 137v1M564 111v1M564 136v1M565 111v1M565 136v1M566 112v1M566 136v1M567 112v1M567 136v1M568 113v1M568 135v1M569 113v1M569 135v1M570 114v1M570 135v1M571 115v1M571 134v1M572 115v1M572 134v1M573 116v1M573 134v1M574 116v1M574 134v1M575 117v1M575 133v1M576 117v1M576 133v1M577 118v1M577 133v1M578 118v1M578 133v1M579 119v1M579 132v1M580 119v1M580 132v1M581 120v1M581 132v1M582 121v1M582 132v1M583 121v1M583 131v1M584 122v1M584 131v1M585 122v1M585 131v1M586 123v1M586 131v1M587 123v1M587 130v1M588 124v1M588 130v1M589 124v1M589 130v1M590 125v1M590 129v1M591 126v1M591 129v1M592 126v1M592 129v1M593 127v1M593 129v1M594 127v2M595 128v1M596 128v1M597 128v2M598 127v1M598 129v1M599 127v1M599 130v1M600 127v1M600 131v1M601 127v1M601 131v1M602 126v1M602 132v1M603 126v1M603 132v1M604 126v1M604 133v1M605 126v1M605 133v1M606 125v1M606 134v1M607 125v1M607 134v1M608 125v1M608 135v1M609 124v1M609 135v1M610 124v1M610 136v1M611 124v1M611 137v1M612 124v1M612 137v1M613 123v1M613 138v1M614 123v1M614 138v1M615 123v1M615 139v1M616 123v1M616 139v1M617 122v1M617 140v1M618 122v1M618 140v1M619 122v1M619 141v1M620 122v1M620 142v1M621 121v1M621 142v1M622 121v1M622 143v1M623 121v1M623 143v1M624 121v1M624 144v1M625 120v1M625 144v1M626 120v1M626 145v1M627 120v1M627 145v1M628 119v1M628 146v1M629 119v1M629 146v1M630 119v1M630 147v1M631 119v1M631 148v1M632 118v1M632 148v1M633 118v1M633 149v1M634 118v1M634 149v1M635 118v1M635 150v1M636 117v1M636 150v1M637 117v1M637 151v1M638 117v1M638 151v1M639 117v1M639 152v1M640 116v1M640 153v1M641 116v1M641 153v1M642 116v1M642 154v1M643 116v1M643 154v1M644 115v1M644 155v1M645 115v1M645 155v1M646 115v1M646 156v1M647 114v1M647 156v1M648 114v1M648 157v1M649 114v1M649 157v1M650 114v1M650 158v1M651 113v1M651 159v1M652 113v1M652 159v1M653 113v1M653 160v1M654 113v1M654 160v1M655 112v1M655 161v1M656 112v1M656 161v1M657 112v1M657 162v1M658 112v1M658 162v1M659 111v1M659 163v1M660 111v1M660 164v1M661 111v1M661 164v1M662 111v1M662 165v1M663 110v1M663 165v1M664 110v1M664 166v1M665 110v1M665 166v1M666 109v1M666 167v1M667 109v1M667 167v1M668 109v1M668 168v1M669 109v1M669 168v1M670 108v1M670 169v1M671 108v1M671 170v1M672 108v1M672 170v1M673 108v1M673 171v1M674 107v1M674 171v1M675 107v1M675 172v1M676 107v1M676 172v1M677 107v1M677 173v1M678 106v1M678 173v1M679 106v1M679 174v1M680 106v1M680 175v1M681 106v1M681 175v1M682 105v1M682 176v1M683 105v1M683 176v1M684 105v1M684 177v1M685 104v1M685 177v1M686 104v1M686 178v1M687 104v1M687 178v1M688 104v1M688 179v1M689 103v1M689 179v1M690 103v1M690 180v1M691 103v1M691 181v1M692 103v1M692 181v1M693 102v1M693 182v1M694 102v1M694 182v1M695 102v1M695 183v1M696 102v1M696 183v1M697 101v1M697 184v1M698 101v1M698 184v1M699 101v1M699 185v1M700 101v1M700 186v1M701 100v1M701 186v1M702 100v1M702 187v1M703 100v1M703 187v1M704 99v1M704 188v1M705 99v1M705 188v1M706 99v1M706 189v1M707 99v1M707 189v1M708 98v1M708 190v1M709 98v1M709 190v1M710 98v1M710 191v1M711 98v1M711 192v1M712 97v1M712 192v1M713 97v1M713 193v1M714 97v1M714 193v1M715 97v1M715 194v1M716 96v1M716 194v1M717 96v1M717 195v1M718 96v1M718 195v1M719 96v1M719 196v1M720 95v1M720 197v1M721 95v1M721 197v1M722 95v1M722 198v1M723 94v1M723 198v1M724 94v1M724 199v1M725 94v1M725 199v1M726 94v1M726 200v1M727 93v1M727 200v1M728 93v1M728 201v1M729 93v1M729 201v1M730 93v1M730 202v1M731 92v1M731 203v1M732 92v1M732 203v1M733 92v1M733 204v1M734 92v1M734 204v1M735 91v1M735 205v1M736 91v1M736 205v1M737 91v1M737 206v1M738 91v1M738 206v1M739 90v1M739 207v1M740 90v1M740 208v1M741 90v1M741 208v1M742 89v1M742 209v1M743 89v1M743 209v1M744 89v1M744 210v1M745 89v1M745 210v1M746 88v1M746 211v1M747 88v1M747 211v1M748 88v1M748 212v1M749 88v1M749 212v1M750 87v1M750 213v1M751 87v1M751 214v1M752 87v1M752 214v1M753 87v1M753 215v1M754 86v1M754 215v1M755 86v1M755 216v1M756 86v1M756 216v1M757 86v1M757 217v1M758 85v1M758 217v1M759 85v1M759 218v1" stroke="#ff0000" stroke-width="1" fill="none" transform="translate(0.5,0)" shape-rendering="crispEdges"/>
</g>
<g fill="#fff" shape-rendering="crispEdges">
<rect x="2" y="2" width="1" height="387"/>
<rect x="2" y="390" width="1" height="193"/>
<rect x="760" y="2" width="1" height="387"/>
<rect x="760" y="390" width="1" height="193"/>
<rect x="2" y="2" width="759" height="1"/>
<rect x="2" y="388" width="759" height="1"/>
<rect x="2" y="390" width="759" height="1"/>
<rect x="2" y="582" width="759" height="1"/>
<rect x="3" y="583" width="1" height="3"/>
<rect x="67" y="583" width="1" height="3"/>
<rect x="131" y="583" width="1" height="3"/>
<rect x="195" y="583" width="1" height="3"/>
<rect x="259" y="583" width="1" height="3"/>
<rect x="323" y="583" width="1" height="3"/>
<rect x="387" y="583" width="1" height="3"/>
<rect x="451" y="583" width="1" height="3"/>
<rect x="515" y="583" width="1" height="3"/>
<rect x="579" y="583" width="1" height="3"/>
<rect x="643" y="583" width="1" height="3"/>
<rect x="707" y="583" width="1" height="3"/>
<rect x="761" y="24" width="2" height="1"/>
<rect x="761" y="57" width="2" height="1"/>
<rect x="761" y="89" width="2" height="1"/>
<rect x="761" y="122" width="2" height="1"/>
<rect x="761" y="155" width="2" height="1"/>
<rect x="761" y="188" width="2" height="1"/>
<rect x="761" y="221" width="2" height="1"/>
<rect x="761" y="254" width="2" height="1"/>
<rect x="761" y="286" width="2" height="1"/>
<rect x="761" y="319" width="2" height="1"/>
<rect x="761" y="352" width="2" height="1"/>
<rect x="761" y="385" width="2" height="1"/>
<rect x="761" y="453" width="2" height="1"/>
<rect x="761" y="391" width="1" height="1"/>
<rect x="761" y="581" width="1" height="1"/>
</g>
<rect x="761" y="242" width="2" height="1" fill="#778899" shape-rendering="crispEdges"/>
<text x="765.3" y="26.85" textLength="23.0" lengthAdjust="spacingAndGlyphs">89.60</text>
<text x="765.3" y="59.85" textLength="23.0" lengthAdjust="spacingAndGlyphs">88.95</text>
<text x="765.3" y="91.85" textLength="23.0" lengthAdjust="spacingAndGlyphs">88.30</text>
<text x="765.3" y="124.85" textLength="23.0" lengthAdjust="spacingAndGlyphs">87.65</text>
<text x="765.3" y="157.85" textLength="23.0" lengthAdjust="spacingAndGlyphs">87.00</text>
<text x="765.3" y="190.85" textLength="23.0" lengthAdjust="spacingAndGlyphs">86.35</text>
<text x="765.3" y="223.85" textLength="23.0" lengthAdjust="spacingAndGlyphs">85.70</text>
<text x="765.3" y="256.85" textLength="23.0" lengthAdjust="spacingAndGlyphs">85.05</text>
<text x="765.3" y="288.85" textLength="23.0" lengthAdjust="spacingAndGlyphs">84.40</text>
<text x="765.3" y="321.85" textLength="23.0" lengthAdjust="spacingAndGlyphs">83.75</text>
<text x="765.3" y="354.85" textLength="23.0" lengthAdjust="spacingAndGlyphs">83.10</text>
<text x="765.3" y="387.85" textLength="23.0" lengthAdjust="spacingAndGlyphs">82.45</text>
<rect x="763" y="236" width="29" height="11" fill="#fff" shape-rendering="crispEdges"/>
<text x="765.3" y="244.85" style="fill:#000;stroke:#000" textLength="23.0" lengthAdjust="spacingAndGlyphs">85.28</text>
<text x="763.5" y="400.85" textLength="23.0" lengthAdjust="spacingAndGlyphs">0.416</text>
<text x="763.5" y="455.85" textLength="18.2" lengthAdjust="spacingAndGlyphs">0.00</text>
<text x="763.6" y="578.85" textLength="26.0" lengthAdjust="spacingAndGlyphs">-0.868</text>
<text x="7.6" y="13.9" textLength="143.5" lengthAdjust="spacingAndGlyphs">_DXY,H1  85.34 85.35 85.21 85.28</text>
<text x="7" y="403.85" textLength="121.5" lengthAdjust="spacingAndGlyphs">MACD(12,26,9) -0.047 0.009</text>
<text x="6" y="577.85" textLength="236.3" lengthAdjust="spacingAndGlyphs">MetaTrader, ? 2001-2008 MetaQuotes Software Corp.</text>
<text x="2.1" y="594.85" textLength="46.0" lengthAdjust="spacingAndGlyphs">9 Feb 2009</text>
<text x="66.1" y="594.85" textLength="54.2" lengthAdjust="spacingAndGlyphs">12 Feb 13:00</text>
<text x="130.1" y="594.85" textLength="54.2" lengthAdjust="spacingAndGlyphs">17 Feb 17:00</text>
<text x="194.1" y="594.85" textLength="54.2" lengthAdjust="spacingAndGlyphs">20 Feb 18:00</text>
<text x="258.1" y="594.85" textLength="54.2" lengthAdjust="spacingAndGlyphs">25 Feb 18:00</text>
<text x="322.1" y="594.85" textLength="49.7" lengthAdjust="spacingAndGlyphs">3 Mar 02:00</text>
<text x="386.1" y="594.85" textLength="49.7" lengthAdjust="spacingAndGlyphs">6 Mar 03:00</text>
<text x="450.1" y="594.85" textLength="54.2" lengthAdjust="spacingAndGlyphs">11 Mar 03:00</text>
<text x="514.1" y="594.85" textLength="54.2" lengthAdjust="spacingAndGlyphs">16 Mar 05:00</text>
<text x="578.1" y="594.85" textLength="54.2" lengthAdjust="spacingAndGlyphs">19 Mar 06:00</text>
<text x="642.1" y="594.85" textLength="54.2" lengthAdjust="spacingAndGlyphs">24 Mar 07:00</text>
<text x="706.1" y="594.85" textLength="54.2" lengthAdjust="spacingAndGlyphs">27 Mar 08:00</text>
</svg></body></html>
